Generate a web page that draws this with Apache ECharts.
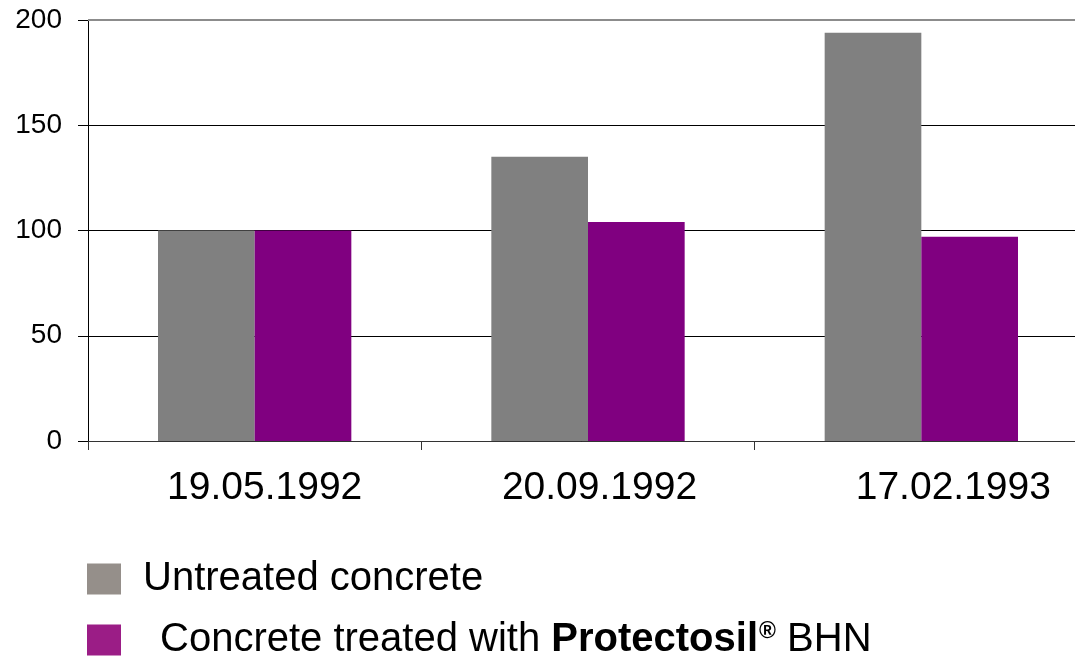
<!DOCTYPE html>
<html>
<head>
<meta charset="utf-8">
<script src="https://cdn.jsdelivr.net/npm/echarts@6/dist/echarts.min.js"></script>
<style>
html, body { margin: 0; padding: 0; background: #fff; }
#chart { width: 1075px; height: 663px; }
</style>
</head>
<body>
<div id="chart"></div>
<script>
var dates = ['19.05.1992', '20.09.1992', '17.02.1993'];
var untreated = [100, 135, 194];
var treated = [100, 104, 97];
var yTicks = [0, 50, 100, 150, 200];

var nameA = 'Untreated concrete';
var nameB = 'Concrete treated with Protectosil® BHN';

var myChart = echarts.init(document.getElementById('chart'));
var font = '"Liberation Sans", Arial, sans-serif';

// labels in the original sit a little right of the category centre
var labelShift = [20, 23, 64];

var richText = {
    a: { fontFamily: font, fontSize: 40, color: '#000' },
    b: { fontFamily: font, fontSize: 40, fontWeight: 'bold', color: '#000' },
    s: { fontFamily: font, fontSize: 23, fontWeight: 'bold', color: '#000', verticalAlign: 'top', padding: [0, 0, 13, 1] }
};

function legendFor(name, color, top, pad) {
    return {
        orient: 'vertical',
        left: 87,
        top: top,
        padding: 0,
        itemWidth: 34,
        itemHeight: 31,
        icon: 'rect',
        data: [{ name: name, itemStyle: { color: color } }],
        formatter: function (n) {
            if (n === nameA) {
                return '{a|' + nameA + '}';
            }
            return '{a|Concrete treated with }{b|Protectosil}{s|®}{a| BHN}';
        },
        textStyle: {
            fontFamily: font,
            fontSize: 40,
            color: '#000',
            padding: [0, 0, 0, pad],
            rich: richText
        }
    };
}

option = {
    animation: false,
    grid: {
        left: 88,
        top: 20,
        bottom: 222,
        width: 1000,
        outerBoundsMode: 'none'
    },
    legend: [
        legendFor(nameA, '#958f8a', 559, 17),
        legendFor(nameB, '#9b1d86', 620, 34)
    ],
    xAxis: {
        type: 'category',
        data: dates.map(function (d, i) {
            return { value: d, textStyle: { padding: [0, 0, 0, labelShift[i]] } };
        }),
        axisLine: { lineStyle: { color: '#333', width: 1 } },
        axisTick: { show: true, length: 9, interval: 0, lineStyle: { color: '#333' } },
        axisLabel: {
            fontFamily: font,
            fontSize: 39,
            color: '#000',
            margin: 28,
            interval: 0
        },
        splitLine: { show: false }
    },
    yAxis: {
        type: 'value',
        min: yTicks[0],
        max: yTicks[yTicks.length - 1],
        interval: 50,
        axisLine: { show: true, lineStyle: { color: '#000', width: 1 } },
        axisTick: { show: true, length: 10, lineStyle: { color: '#000' } },
        axisLabel: {
            fontFamily: font,
            fontSize: 28,
            color: '#000',
            margin: 26
        },
        splitLine: { show: true, lineStyle: { color: '#000', width: 1 } }
    },
    series: [
        {
            name: nameA,
            type: 'bar',
            data: untreated,
            barGap: '0%',
            barCategoryGap: '42%',
            itemStyle: { color: '#808080' },
            markLine: {
                silent: true,
                symbol: ['none', 'none'],
                label: { show: false },
                lineStyle: { color: '#8c8c8c', width: 2, type: 'solid' },
                data: [{ yAxis: 200 }]
            }
        },
        {
            name: nameB,
            type: 'bar',
            data: treated,
            barGap: '0%',
            barCategoryGap: '42%',
            itemStyle: { color: '#800080' }
        }
    ]
};

if (option && typeof option === "object") {
    myChart.setOption(option, true);
}
</script>
</body>
</html>
